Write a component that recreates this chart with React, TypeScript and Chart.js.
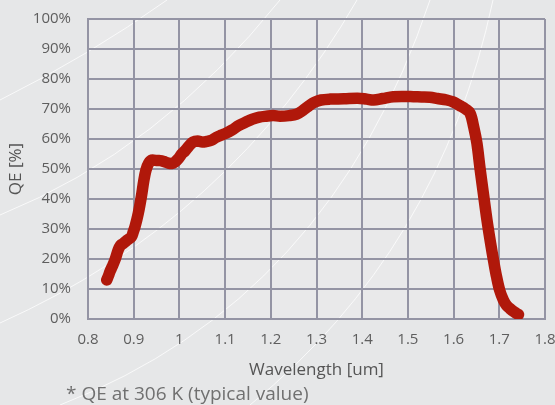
import React, { useEffect, useRef } from "react";
import { Chart, registerables } from "chart.js";

Chart.register(...registerables);

const wavelength = [
  0.841, 0.845, 0.848, 0.853, 0.859, 0.866, 0.871, 0.877, 0.886, 0.895, 0.899, 0.903,
  0.910, 0.917, 0.922, 0.927, 0.933, 0.940, 0.950, 0.958, 0.966, 0.975, 0.983, 0.990,
  0.998, 1.005, 1.012, 1.020, 1.030, 1.040, 1.050, 1.060, 1.070, 1.080, 1.090, 1.100,
  1.115, 1.130, 1.145, 1.160, 1.175, 1.190, 1.205, 1.220, 1.240, 1.257, 1.270, 1.283,
  1.295, 1.310, 1.330, 1.360, 1.390, 1.410, 1.425, 1.445, 1.468, 1.490, 1.512, 1.530,
  1.548, 1.565, 1.585, 1.600, 1.614, 1.626, 1.636, 1.644, 1.651, 1.658, 1.665, 1.673,
  1.681, 1.688, 1.694, 1.701, 1.709, 1.716, 1.723, 1.733, 1.742,
];

const qePercent = [
  13, 14.5, 15.8, 17.5, 19.7, 23, 24.5, 25.2, 26.3, 27.4, 29, 30.8,
  35.2, 41, 46, 49.7, 52, 53, 52.8, 52.8, 52.5, 52, 51.8, 52.3,
  53.5, 55, 56, 57.5, 59, 59.3, 59, 59.2, 59.6, 60.5, 61.2, 61.8,
  63, 64.5, 65.6, 66.6, 67.3, 67.6, 67.8, 67.6, 67.8, 68.3, 69.5, 71,
  72.2, 73, 73.3, 73.4, 73.6, 73.3, 73, 73.5, 74.1, 74.2, 74.1, 74,
  73.9, 73.5, 73, 72.3, 71.1, 70, 68.6, 64, 58.6, 50, 42, 33,
  25.2, 19, 14.1, 9.5, 6.3, 4.5, 3.5, 2.3, 1.5,
];

const xTitle = "Wavelength [um]";
const yTitle = "QE [%]";
const footnote = "* QE at 306 K (typical value)";

const FONT = "'Open Sans', 'Noto Sans', sans-serif";
const PAGE_BG = "#e6e7e8";
const PLOT_BG = "#e9e9ea";
const GRID = "#9494a4";

const backgroundPlugin = {
  id: "bgDecor",
  beforeDraw(chart: any) {
    const { ctx, chartArea } = chart;
    const w = chart.width;
    const h = chart.height;
    ctx.save();
    ctx.fillStyle = PAGE_BG;
    ctx.fillRect(0, 0, w, h);
    ctx.fillStyle = PLOT_BG;
    ctx.fillRect(chartArea.left, chartArea.top, chartArea.right - chartArea.left, chartArea.bottom - chartArea.top);
    ctx.strokeStyle = "rgba(255,255,255,0.75)";
    ctx.lineWidth = 1;
    const curves: number[][] = [
      [0, 100, 90, 55, 167, 0],
      [0, 215, 160, 150, 280, 0],
      [0, 323, 230, 220, 357, 0],
      [60, 405, 330, 300, 430, 0],
      [250, 405, 440, 250, 493, 0],
    ];
    for (const c of curves) {
      ctx.beginPath();
      ctx.moveTo(c[0], c[1]);
      ctx.quadraticCurveTo(c[2], c[3], c[4], c[5]);
      ctx.stroke();
    }
    ctx.restore();
  },
};

export default function App() {
  const ref = useRef<HTMLCanvasElement | null>(null);

  useEffect(() => {
    if (!ref.current) return;
    const points = wavelength.map((x, i) => ({ x, y: qePercent[i] }));
    const chart = new Chart(ref.current, {
      type: "line",
      data: {
        datasets: [
          {
            data: points,
            borderColor: "#b0180a",
            borderWidth: 11.5,
            borderCapStyle: "round",
            borderJoinStyle: "round",
            pointRadius: 0,
            tension: 0.35,
            fill: false,
          },
        ],
      },
      options: {
        animation: false,
        responsive: false,
        devicePixelRatio: 1,
        layout: { padding: { left: 0, top: 19, right: 10, bottom: 25 } },
        plugins: { legend: { display: false }, tooltip: { enabled: false } },
        scales: {
          x: {
            type: "linear",
            min: 0.8,
            max: 1.8,
            afterFit: (s: any) => {
              s.height = 61;
              s.paddingLeft = 0;
              s.paddingRight = 0;
            },
            ticks: {
              stepSize: 0.1,
              padding: 12,
              color: "#5e5e5e",
              font: { family: FONT, size: 15 },
              callback: (v: any) => String(Number(Number(v).toFixed(1))),
            },
            grid: { color: GRID, lineWidth: 2, drawTicks: false },
            border: { color: GRID, width: 2 },
            title: {
              display: true,
              text: xTitle,
              color: "#555555",
              font: { family: FONT, size: 17 },
              padding: { top: 0, bottom: 0 },
            },
          },
          y: {
            min: 0,
            max: 100,
            afterFit: (s: any) => {
              s.width = 88;
              s.paddingTop = 0;
              s.paddingBottom = 0;
            },
            ticks: {
              stepSize: 10,
              padding: 17,
              color: "#5e5e5e",
              font: { family: FONT, size: 15 },
              callback: (v: any) => v + "%",
            },
            grid: { color: GRID, lineWidth: 2, drawTicks: false },
            border: { color: GRID, width: 2 },
            title: {
              display: true,
              text: yTitle,
              color: "#555555",
              font: { family: FONT, size: 17 },
              padding: { top: 6, bottom: 0 },
            },
          },
        },
      },
      plugins: [backgroundPlugin],
    } as any);
    return () => chart.destroy();
  }, []);

  return (
    <div
      style={{
        position: "fixed",
        left: 0,
        top: 0,
        width: 555,
        height: 405,
        background: PAGE_BG,
        overflow: "hidden",
      }}
    >
      <canvas ref={ref} width={555} height={405} style={{ display: "block", width: 555, height: 405 }} />
      <div
        style={{
          position: "absolute",
          left: 66,
          top: 382,
          fontFamily: FONT,
          fontSize: 19,
          lineHeight: "22px",
          color: "#707070",
          whiteSpace: "nowrap",
        }}
      >
        {footnote}
      </div>
    </div>
  );
}
